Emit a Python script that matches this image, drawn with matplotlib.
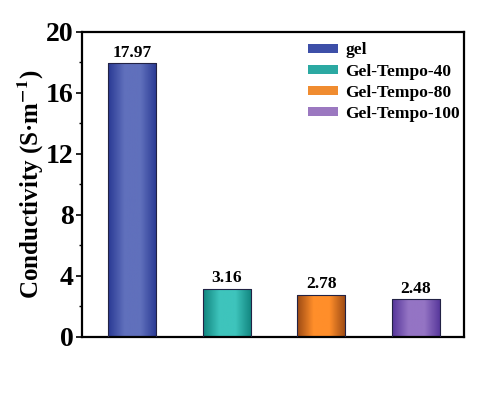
import numpy as np
import matplotlib
matplotlib.use('Agg')
import matplotlib.pyplot as plt
from matplotlib.colors import LinearSegmentedColormap
from matplotlib.patches import Patch

labels = ['gel', 'Gel-Tempo-40', 'Gel-Tempo-80', 'Gel-Tempo-100']
values = [17.97, 3.16, 2.78, 2.48]
value_text = ['17.97', '3.16', '2.78', '2.48']
# edge shade / centre shade of each bar, and legend colours
dark = ['#2a3a94', '#11857f', '#9c4a14', '#56369a']
light = ['#6070bc', '#3ec4bc', '#ff8e2a', '#9474c4']
legend_col = ['#3d4fa8', '#2ba9a2', '#f08c30', '#9b78c0']

plt.rcParams['font.family'] = ['Liberation Serif', 'DejaVu Serif']
plt.rcParams['font.weight'] = 'bold'
plt.rcParams['mathtext.fontset'] = 'stix'
plt.rcParams['mathtext.default'] = 'bf'

fig = plt.figure(figsize=(4.79, 3.95), dpi=100)
ax = fig.add_axes([0.171, 0.147, 0.798, 0.772])

x = np.arange(len(values))
w = 0.51
bars = ax.bar(x, values, width=w, color='none', edgecolor='#222244', linewidth=0.8, zorder=3)

# cylinder-like shading inside every bar
grad = np.linspace(0, 1, 64).reshape(1, -1)
for b, d, l in zip(bars, dark, light):
    cmap = LinearSegmentedColormap.from_list('c', [d, l, l, d])
    x0, y0 = b.get_x(), b.get_y()
    im = ax.imshow(grad, cmap=cmap, aspect='auto', zorder=2,
                   extent=[x0, x0 + b.get_width(), y0, y0 + b.get_height()])
    im.set_clip_path(b)

for xi, v, t in zip(x, values, value_text):
    ax.text(xi, v + 0.15, t, ha='center', va='bottom', fontsize=12.5, fontweight='bold')

ax.set_xlim(-0.53, 3.51)
ax.set_ylim(0, 20)
ax.set_yticks([0, 4, 8, 12, 16, 20])
ax.set_yticks(np.arange(2, 20, 4), minor=True)
ax.set_xticks([])
ax.tick_params(axis='y', which='major', direction='out', length=4, width=1.2, labelsize=20, pad=2)
ax.tick_params(axis='y', which='minor', direction='out', length=2, width=1)
for lab in ax.get_yticklabels():
    lab.set_fontweight('bold')
for s in ax.spines.values():
    s.set_linewidth(1.6)

ax.set_ylabel('Conductivity (S·m$^{-1}$)', fontsize=18, fontweight='bold', labelpad=0)

handles = [Patch(facecolor=c, edgecolor='none') for c in legend_col]
ax.legend(handles, labels, loc='upper left', bbox_to_anchor=(0.592, 0.966),
          frameon=False, borderpad=0, borderaxespad=0,
          handlelength=1.7, handleheight=0.45, handletextpad=0.45, labelspacing=0.3,
          prop={'weight': 'bold', 'size': 12.5})

fig.savefig('out.png', dpi=100)
